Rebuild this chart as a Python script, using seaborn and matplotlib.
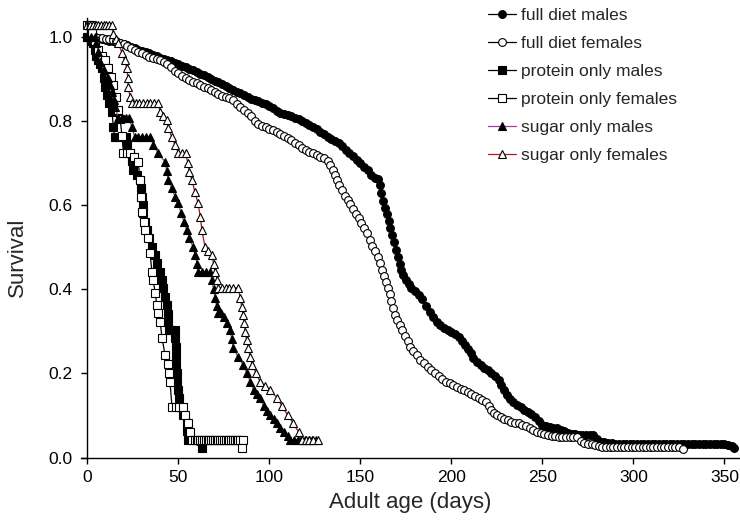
import matplotlib
matplotlib.use("Agg")
import matplotlib.pyplot as plt
import seaborn as sns
import pandas as pd

# ---------------- data ----------------
fdm_days = [0, 2, 4, 6, 8, 10, 12, 14, 16, 18, 20, 22, 24, 26, 28, 30, 32, 34, 36, 38,
            40, 42, 44, 46, 48, 50, 52, 54, 56, 58, 60, 62, 64, 66, 68, 70, 72, 74, 76, 78,
            80, 82, 84, 86, 88, 90, 92, 94, 96, 98, 100, 102, 104, 106, 108, 110, 112, 114, 116, 118,
            120, 122, 124, 126, 128, 130, 132, 134, 136, 138, 140, 142, 144, 146, 148, 150, 152, 154, 156, 158,
            159.5, 160.5, 161.5, 162.5, 163.5, 164.5, 165.5, 166.5, 167.5, 168.5, 169.5, 170.5, 171.5, 172.5, 173.5,
            175, 176.5, 178, 180, 182, 184, 186, 188, 190, 192, 194, 196, 198, 200, 202, 204, 206, 207.5, 209, 210.5,
            212, 214, 216, 218, 220, 222, 224, 226, 227.5, 229, 230.5, 232, 234, 236, 238, 240, 242, 244, 246, 248,
            250, 252, 254, 256, 258, 260, 262, 264, 266, 268, 270, 272, 274, 276, 278, 280, 282, 284, 286, 288,
            290, 292, 294, 296, 298, 300, 302, 304, 306, 308, 310, 312, 314, 316, 318, 320, 322, 324, 326, 328,
            330, 332, 334, 336, 338, 340, 342, 344, 346, 348, 350, 352, 354, 355.5]
fdm_surv = [1.000, 1.000, 0.999, 0.997, 0.995, 0.993, 0.991, 0.990, 0.988, 0.986, 0.983, 0.980, 0.977, 0.974, 0.970, 0.967, 0.964, 0.961, 0.958, 0.955,
            0.951, 0.948, 0.945, 0.942, 0.938, 0.935, 0.931, 0.928, 0.924, 0.921, 0.917, 0.913, 0.909, 0.905, 0.900, 0.896, 0.892, 0.888, 0.884, 0.879,
            0.874, 0.870, 0.866, 0.861, 0.857, 0.853, 0.850, 0.847, 0.843, 0.840, 0.836, 0.830, 0.824, 0.820, 0.817, 0.814, 0.811, 0.808, 0.805, 0.801,
            0.796, 0.790, 0.785, 0.780, 0.775, 0.769, 0.763, 0.758, 0.753, 0.748, 0.741, 0.732, 0.724, 0.716, 0.708, 0.700, 0.691, 0.683, 0.672, 0.665,
            0.662, 0.648, 0.630, 0.611, 0.594, 0.578, 0.562, 0.546, 0.530, 0.512, 0.494, 0.476, 0.460, 0.446, 0.434,
            0.422, 0.412, 0.404, 0.396, 0.386, 0.377, 0.360, 0.346, 0.333, 0.321, 0.314, 0.307, 0.302, 0.298, 0.293, 0.287, 0.278, 0.268, 0.258, 0.248,
            0.236, 0.226, 0.219, 0.213, 0.207, 0.200, 0.194, 0.185, 0.172, 0.160, 0.148, 0.139, 0.132, 0.126, 0.120, 0.114, 0.108, 0.103, 0.096, 0.087,
            0.078, 0.075, 0.073, 0.071, 0.069, 0.066, 0.062, 0.058, 0.056, 0.055, 0.054, 0.054, 0.054, 0.054, 0.053, 0.045, 0.038, 0.036, 0.035, 0.034,
            0.033, 0.032, 0.032, 0.032, 0.032, 0.032, 0.032, 0.032, 0.032, 0.032, 0.032, 0.032, 0.032, 0.032, 0.032, 0.032, 0.032, 0.032, 0.032, 0.032,
            0.032, 0.032, 0.032, 0.032, 0.032, 0.032, 0.032, 0.032, 0.032, 0.032, 0.031, 0.030, 0.027, 0.022]

fdf_days = [0, 2, 4, 6, 8, 10, 12, 14, 16, 18, 20, 22, 24, 26, 28, 30, 32, 34, 36, 38,
            40, 42, 44, 46, 48, 50, 52, 54, 56, 58, 60, 62, 64, 66, 68, 70, 72, 74, 76, 78,
            80, 82, 84, 86, 88, 90, 92, 94, 96, 98, 100, 102, 104, 106, 108, 110, 112, 114, 116, 118,
            120, 122, 124, 126, 128, 130, 132, 133.5, 135, 136, 137, 138.5, 140, 141.5, 143, 144.5, 146, 147.5, 149, 150.5,
            152, 153.5, 155, 156.5, 158, 159.5, 161, 162, 163, 164, 165, 166, 167, 168, 169, 170, 171.5, 173, 174.5, 176,
            177.5, 179, 181, 183, 185, 187, 189, 191, 193, 195, 197, 199, 201, 203, 205, 207, 209, 211, 213, 215,
            217, 219, 220.5, 222, 223.5, 225, 227, 229, 231, 233, 235, 237, 239, 241, 243, 245, 247, 249, 251, 253,
            255, 257, 259, 261, 263, 265, 267, 269, 271, 273, 275, 277, 279, 281, 283, 285, 287, 289, 291, 293,
            295, 297, 299, 301, 303, 305, 307, 309, 311, 313, 315, 317, 319, 321, 323, 325, 327]
fdf_surv = [1.000, 1.000, 0.999, 0.998, 0.997, 0.996, 0.994, 0.993, 0.990, 0.986, 0.982, 0.978, 0.974, 0.969, 0.965, 0.961, 0.957, 0.953, 0.950, 0.947,
            0.944, 0.941, 0.935, 0.928, 0.920, 0.914, 0.908, 0.903, 0.898, 0.894, 0.890, 0.886, 0.882, 0.878, 0.874, 0.869, 0.864, 0.860, 0.857, 0.854,
            0.850, 0.841, 0.834, 0.827, 0.819, 0.811, 0.800, 0.793, 0.788, 0.785, 0.782, 0.779, 0.775, 0.770, 0.765, 0.760, 0.754, 0.748, 0.742, 0.736,
            0.731, 0.727, 0.723, 0.719, 0.715, 0.711, 0.705, 0.695, 0.684, 0.672, 0.660, 0.648, 0.635, 0.622, 0.612, 0.602, 0.590, 0.580, 0.569, 0.558,
            0.546, 0.533, 0.518, 0.503, 0.490, 0.477, 0.462, 0.447, 0.432, 0.418, 0.403, 0.388, 0.372, 0.356, 0.340, 0.326, 0.314, 0.302, 0.290, 0.276,
            0.263, 0.254, 0.243, 0.232, 0.224, 0.216, 0.209, 0.202, 0.194, 0.186, 0.180, 0.176, 0.172, 0.168, 0.164, 0.160, 0.155, 0.151, 0.146, 0.141,
            0.137, 0.131, 0.122, 0.114, 0.106, 0.100, 0.096, 0.092, 0.088, 0.085, 0.083, 0.081, 0.078, 0.074, 0.069, 0.065, 0.061, 0.058, 0.055, 0.053,
            0.051, 0.050, 0.049, 0.049, 0.049, 0.049, 0.049, 0.048, 0.040, 0.035, 0.033, 0.031, 0.029, 0.027, 0.026, 0.025, 0.025, 0.025, 0.025, 0.025,
            0.025, 0.025, 0.025, 0.025, 0.025, 0.025, 0.025, 0.025, 0.025, 0.025, 0.025, 0.025, 0.025, 0.025, 0.025, 0.025, 0.020]

pm_days = [0, 1, 2, 3, 4, 5, 6, 7, 8, 9, 9.7, 10.8, 12, 13.6, 14.2, 15, 17, 19, 21, 22,
           23.5, 24.5, 25.2, 27, 29, 29.5, 30, 30.3, 30.6, 31.6, 32.6, 34, 35.5, 37, 38.5, 40, 41, 41.8, 42.7, 43.8,
           44.2, 44.4, 44.8, 46.5, 48.2, 48.3, 48.5, 48.7, 48.9, 49.0, 49.2, 49.8, 50.3, 51, 52.6, 54.7, 55.0, 55.4, 63]
pm_surv = [1.000, 1.000, 0.990, 0.986, 0.970, 0.955, 0.945, 0.935, 0.926, 0.903, 0.881, 0.862, 0.842, 0.822, 0.786, 0.762, 0.762, 0.762, 0.762, 0.745,
           0.724, 0.704, 0.684, 0.672, 0.660, 0.640, 0.620, 0.600, 0.581, 0.561, 0.541, 0.521, 0.501, 0.482, 0.462, 0.441, 0.422, 0.403, 0.382, 0.362,
           0.342, 0.323, 0.303, 0.303, 0.303, 0.283, 0.263, 0.242, 0.221, 0.200, 0.180, 0.161, 0.142, 0.120, 0.101, 0.082, 0.062, 0.042, 0.023]

pf_days = [0, 1, 2, 2.6, 4, 6, 8, 9.7, 11.5, 13, 14.2, 15.5, 17, 18, 19, 19.8, 21.5, 23.5, 25.5, 27.9,
           29, 29.5, 30, 31, 31.7, 33.3, 34.4, 35.5, 36.2, 37.2, 38.2, 38.8, 40, 41, 42.7, 44.4, 45, 45.4, 46.5, 48.5,
           50.5, 52.6, 53.7, 55.4, 56.5, 57.5, 59, 60, 61, 62, 63, 64, 65, 66, 67, 68, 69, 70, 71, 72,
           73, 74, 75, 76, 77, 78, 79, 80, 81, 82, 83, 84, 85.5, 85]
pf_surv = [1.028, 1.028, 1.028, 1.010, 0.990, 0.970, 0.955, 0.945, 0.926, 0.905, 0.886, 0.856, 0.826, 0.805, 0.765, 0.724, 0.724, 0.724, 0.714, 0.703,
           0.660, 0.620, 0.584, 0.560, 0.541, 0.522, 0.486, 0.441, 0.422, 0.392, 0.362, 0.343, 0.323, 0.284, 0.244, 0.223, 0.200, 0.180, 0.120, 0.120,
           0.120, 0.120, 0.101, 0.082, 0.061, 0.042, 0.042, 0.042, 0.042, 0.042, 0.042, 0.042, 0.042, 0.042, 0.042, 0.042, 0.042, 0.042, 0.042, 0.042,
           0.042, 0.042, 0.042, 0.042, 0.042, 0.042, 0.042, 0.042, 0.042, 0.042, 0.042, 0.042, 0.042, 0.023]

sm_days = [0, 2, 4.2, 5, 6, 7, 9, 11.5, 12.5, 13.6, 14.4, 15.2, 17, 19, 21, 23, 24.5, 26, 28, 30,
           32, 34.5, 36.2, 38.8, 42.7, 43.5, 44.4, 46.3, 48.2, 50, 51.5, 53, 54.5, 56, 58, 59.2, 60.2, 61, 63, 65,
           67.4, 68.5, 69.3, 70.2, 71, 71.9, 73.5, 75, 76.7, 78.4, 79.3, 80.2, 82.8, 85.6, 87.6, 89.5, 91.3, 93, 94.9, 96.8,
           98.5, 100.4, 102.3, 104.2, 106, 108, 110, 111.5, 113.5, 115.5, 117.5, 119.5, 121.5, 123.5, 125.5]
sm_surv = [1.000, 1.000, 1.000, 0.985, 0.965, 0.941, 0.922, 0.902, 0.885, 0.869, 0.851, 0.834, 0.807, 0.807, 0.807, 0.807, 0.785, 0.762, 0.762, 0.762,
           0.762, 0.762, 0.743, 0.724, 0.703, 0.682, 0.660, 0.640, 0.620, 0.605, 0.581, 0.561, 0.541, 0.522, 0.501, 0.482, 0.461, 0.441, 0.441, 0.441,
           0.441, 0.422, 0.400, 0.379, 0.361, 0.343, 0.343, 0.335, 0.320, 0.303, 0.282, 0.260, 0.239, 0.220, 0.201, 0.180, 0.161, 0.150, 0.142, 0.122,
           0.110, 0.101, 0.092, 0.082, 0.070, 0.061, 0.050, 0.042, 0.042, 0.042, 0.042, 0.042, 0.042, 0.042, 0.042]

sf_days = [0, 1.5, 3, 4.5, 6, 7.5, 9, 10.5, 12, 13.6, 14.2, 15.5, 17, 19, 20.5, 21.7, 22.2, 22.4, 23.5, 24.6,
           26.5, 28.5, 30.5, 32.5, 34.5, 36.5, 38.8, 40, 41.8, 43.8, 44.4, 46.3, 48.2, 50, 52, 54, 55.2, 56, 57.5, 59,
           60.8, 62, 62.9, 64.6, 66.5, 68.5, 69.3, 70.2, 71.3, 72, 74, 76, 78, 80, 82.8, 84, 84.8, 85.6, 86.2, 86.7,
           87.5, 88.3, 89.4, 90.5, 92.7, 94.9, 97.5, 100.4, 104.2, 107, 110, 113, 116, 118, 120, 122, 124, 126.5]
sf_surv = [1.028, 1.028, 1.028, 1.028, 1.028, 1.028, 1.028, 1.028, 1.028, 1.028, 1.008, 0.995, 0.986, 0.962, 0.945, 0.926, 0.903, 0.881, 0.857, 0.843,
           0.843, 0.843, 0.843, 0.843, 0.843, 0.843, 0.843, 0.822, 0.812, 0.803, 0.784, 0.763, 0.743, 0.724, 0.724, 0.724, 0.700, 0.679, 0.660, 0.632,
           0.605, 0.573, 0.541, 0.501, 0.491, 0.482, 0.461, 0.441, 0.422, 0.403, 0.403, 0.403, 0.403, 0.403, 0.403, 0.379, 0.359, 0.339, 0.319, 0.299,
           0.280, 0.260, 0.240, 0.220, 0.200, 0.180, 0.170, 0.161, 0.142, 0.122, 0.101, 0.082, 0.061, 0.042, 0.042, 0.042, 0.042, 0.042]

labels = ["full diet males", "full diet females", "protein only males",
          "protein only females", "sugar only males", "sugar only females"]
x_ticks = [0, 50, 100, 150, 200, 250, 300, 350]
y_ticks = [0.0, 0.2, 0.4, 0.6, 0.8, 1.0]

# ---------------- styling ----------------
sns.set_theme(style="ticks")
plt.rcParams["font.family"] = ["Liberation Sans", "DejaVu Sans"]

series = [
    (fdm_days, fdm_surv, dict(marker="o", mfc="black", mec="black", color="black", ms=5.6)),
    (fdf_days, fdf_surv, dict(marker="o", mfc="white", mec="black", color="black", ms=5.6)),
    (pm_days, pm_surv, dict(marker="s", mfc="black", mec="black", color="black", ms=5.2)),
    (pf_days, pf_surv, dict(marker="s", mfc="white", mec="black", color="black", ms=5.2)),
    (sm_days, sm_surv, dict(marker="^", mfc="black", mec="black", color="#a03ca0", ms=6.2)),
    (sf_days, sf_surv, dict(marker="^", mfc="white", mec="black", color="#b01818", ms=6.2)),
]

fig = plt.figure(figsize=(7.4, 5.3), dpi=100)
ax = fig.add_axes([81 / 740, 1 - 457.5 / 530, 658 / 740, 439.5 / 530])

handles = []
for (d, s, st), lab in zip(series, labels):
    df = pd.DataFrame({"day": d, "surv": s})
    n_before = len(ax.lines)
    sns.lineplot(data=df, x="day", y="surv", ax=ax, estimator=None, sort=False,
                 color=st["color"], marker=st["marker"], markerfacecolor=st["mfc"],
                 markeredgecolor=st["mec"], markersize=st["ms"], markeredgewidth=0.8,
                 linewidth=0.9, legend=False, clip_on=False)
    handles.append(ax.lines[n_before])

ax.set_xlim(-3.5, 358)
ax.set_ylim(0, 1.045)
ax.set_xticks(x_ticks)
ax.set_xticklabels([str(v) for v in x_ticks])
ax.set_yticks(y_ticks)
ax.set_yticklabels([f"{v:.1f}" for v in y_ticks])

for side in ("top", "right"):
    ax.spines[side].set_visible(False)
ax.spines["left"].set_position(("data", 0))
for side in ("left", "bottom"):
    ax.spines[side].set_color("black")
    ax.spines[side].set_linewidth(1.0)
ax.tick_params(axis="both", direction="out", length=4, width=1.0, colors="black",
               labelsize=12.5)
ax.tick_params(axis="y", pad=6.5)
ax.tick_params(axis="x", pad=5)
ax.set_facecolor("white")
ax.grid(False)

ax.set_xlabel("Adult age (days)", fontsize=16, labelpad=5)
ax.set_ylabel("Survival", fontsize=16)
ax.yaxis.set_label_coords(-0.08, 0.456)

fig.legend(handles, labels, loc="upper left", bbox_to_anchor=(488 / 740, 1 - 8 / 530),
           frameon=False, fontsize=12.5, handlelength=1.6, handletextpad=0.3,
           labelspacing=0.74, borderpad=0, borderaxespad=0)

fig.savefig("out.png", dpi=100, facecolor="white")
